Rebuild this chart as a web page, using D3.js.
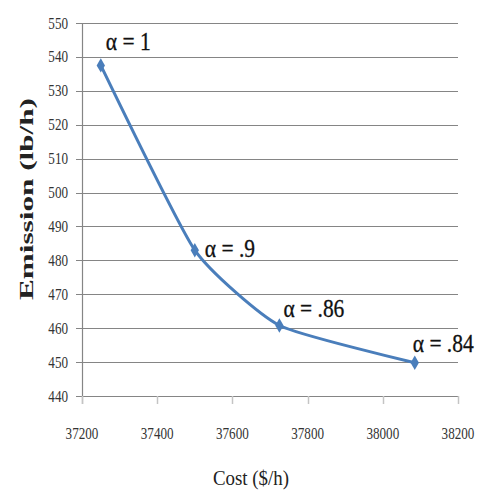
<!DOCTYPE html>
<html><head><meta charset="utf-8">
<script src="https://cdn.jsdelivr.net/npm/d3@7"></script>
<style>
html,body{margin:0;padding:0;background:#fff;}
svg{display:block;}
</style></head>
<body>
<svg id="chart" width="477" height="491"></svg>
<script>
const costs = [37250, 37500, 37725, 38085];
const emissions = [537.5, 483, 460.8, 449.8];
const alphaLabels = ["α = 1", "α = .9", "α = .86", "α = .84"];
const xTicks = [37200, 37400, 37600, 37800, 38000, 38200];
const yTicks = [440, 450, 460, 470, 480, 490, 500, 510, 520, 530, 540, 550];
const xTitle = "Cost ($/h)";
const yTitle = "Emission (lb/h)";

// layout
const FONT = "Liberation Serif";
const labelOffsets = [[5, -15], [10, 7], [4, -8], [-2, -11]];
const svg = d3.select("#chart");
const x = d3.scaleLinear().domain([37200, 38200]).range([82, 458]);
const y = d3.scaleLinear().domain([440, 550]).range([396, 23]);
const gridColor = "#858585";

// gridlines
svg.append("g").selectAll("line").data(yTicks).join("line")
  .attr("x1", 76).attr("x2", x.range()[1])
  .attr("y1", d => Math.round(y(d)) + 0.5).attr("y2", d => Math.round(y(d)) + 0.5)
  .attr("stroke", gridColor).attr("stroke-width", 1.2);

// y axis line
svg.append("line").attr("x1", 82.5).attr("x2", 82.5)
  .attr("y1", y(550)).attr("y2", y(440) + 8)
  .attr("stroke", gridColor).attr("stroke-width", 1.2);

// x ticks
svg.append("g").selectAll("line").data(xTicks).join("line")
  .attr("x1", d => Math.round(x(d)) + 0.5).attr("x2", d => Math.round(x(d)) + 0.5)
  .attr("y1", y(440)).attr("y2", y(440) + 8)
  .attr("stroke", "#c4c4c4").attr("stroke-width", 1.5);

// y tick labels
svg.append("g").selectAll("text").data(yTicks).join("text")
  .attr("transform", d => `translate(68,${y(d) + 5.5}) scale(0.82,1)`)
  .attr("text-anchor", "end").attr("font-size", 16)
  .attr("font-family", FONT).attr("fill", "#333")
  .text(d => d);

// x tick labels
svg.append("g").selectAll("text").data(xTicks).join("text")
  .attr("transform", d => `translate(${x(d)},439) scale(0.82,1)`)
  .attr("text-anchor", "middle").attr("font-size", 16)
  .attr("font-family", FONT).attr("fill", "#333")
  .text(d => d);

// axis titles
svg.append("text")
  .attr("transform", "translate(251,485) scale(0.9,1)")
  .attr("text-anchor", "middle").attr("font-size", 21)
  .attr("font-family", FONT).attr("fill", "#222")
  .text(xTitle);
svg.append("text")
  .attr("transform", "translate(33,199) rotate(-90)")
  .attr("text-anchor", "middle").attr("font-size", 19).attr("font-weight", "bold")
  .attr("font-family", FONT).attr("fill", "#222")
  .attr("textLength", 202).attr("lengthAdjust", "spacingAndGlyphs")
  .text(yTitle);

// line
const pts = costs.map((c, i) => [c, emissions[i]]);
const line = d3.line().x(d => x(d[0])).y(d => y(d[1])).curve(d3.curveCardinal.tension(0.5));
svg.append("path").datum(pts).attr("d", line)
  .attr("fill", "none").attr("stroke", "#4a7ebb").attr("stroke-width", 3)
  .attr("stroke-linejoin", "round").attr("stroke-linecap", "round");

// markers
svg.append("g").selectAll("path").data(pts).join("path")
  .attr("transform", d => `translate(${x(d[0])},${y(d[1])})`)
  .attr("d", d3.symbol().type(d3.symbolDiamond).size(60))
  .attr("fill", "#4a7ebb");

// annotations
svg.append("g").selectAll("text").data(pts).join("text")
  .attr("transform", (d, i) => `translate(${x(d[0]) + labelOffsets[i][0]},${y(d[1]) + labelOffsets[i][1]}) scale(0.86,1)`)
  .attr("font-size", 25).attr("font-family", FONT).attr("fill", "#111")
  .attr("stroke", "#111").attr("stroke-width", 0.3)
  .text((d, i) => alphaLabels[i]);
</script>
</body></html>
